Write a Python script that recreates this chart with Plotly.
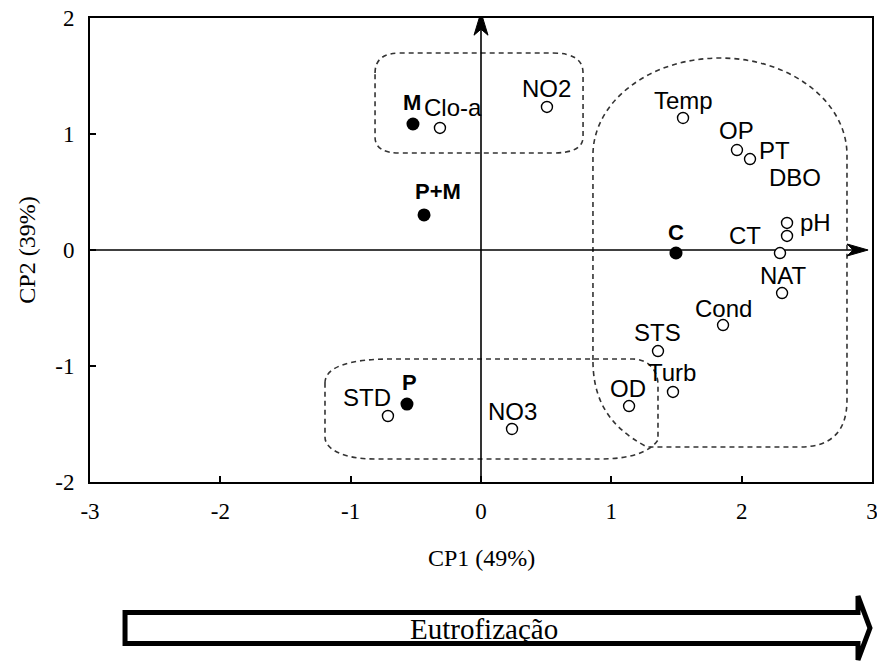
import plotly.graph_objects as go

# ---- data ----
var_names = ["Clo-a", "NO2", "Temp", "OP", "PT", "DBO", "pH", "CT", "NAT",
             "Cond", "STS", "Turb", "OD", "NO3", "STD"]
var_cp1 = [-0.315, 0.506, 1.550, 1.964, 2.064, 2.348, 2.348, 2.294, 2.310,
           1.857, 1.358, 1.473, 1.136, 0.238, -0.714]
var_cp2 = [1.052, 1.233, 1.138, 0.862, 0.784, 0.233, 0.121, -0.026, -0.371,
           -0.647, -0.871, -1.224, -1.345, -1.543, -1.431]

sample_names = ["M", "P+M", "P", "C"]
sample_cp1 = [-0.522, -0.437, -0.568, 1.496]
sample_cp2 = [1.086, 0.302, -1.328, -0.026]

x_ticks = [-3, -2, -1, 0, 1, 2, 3]
x_tick_text = ["-3", "-2", "-1", "0", "1", "2", "3"]
y_ticks = [-2, -1, 0, 1, 2]
y_tick_text = ["-2", "-1", "0", "1", "2"]

x_title = "CP1 (49%)"
y_title = "CP2 (39%)"
arrow_text = "Eutrofização"

# ---- label placement (pixel offsets, style only) ----
label_offsets = {
    "Clo-a": (13, 20), "NO2": (0, 18), "Temp": (0, 17), "OP": (0, 20),
    "PT": (24, 9), "DBO": (8, 45), "pH": (28, 13), "CT": (-35, 18),
    "NAT": (1, 18), "Cond": (0, 17), "STS": (0, 19), "Turb": (-1, 19),
    "OD": (-1, 18), "NO3": (0, 17), "STD": (-21, 19),
    "M": (-1, 22), "P+M": (14, 23), "P": (3, 22), "C": (0, 21),
}

SANS = "Liberation Sans"
SERIF = "Liberation Serif"

fig = go.Figure()

fig.add_trace(go.Scatter(
    x=var_cp1, y=var_cp2, mode="markers", cliponaxis=False,
    marker=dict(symbol="circle", size=11, color="white",
                line=dict(color="black", width=1.4)),
    showlegend=False, hoverinfo="skip"))

fig.add_trace(go.Scatter(
    x=sample_cp1, y=sample_cp2, mode="markers", cliponaxis=False,
    marker=dict(symbol="circle", size=13, color="black",
                line=dict(color="black", width=0)),
    showlegend=False, hoverinfo="skip"))

annotations = []
for n, x, y in zip(var_names, var_cp1, var_cp2):
    dx, dy = label_offsets[n]
    annotations.append(dict(x=x, y=y, xref="x", yref="y", text=n, showarrow=False,
                            xshift=dx, yshift=dy, xanchor="center", yanchor="middle",
                            font=dict(family=SANS, size=24, color="black")))
for n, x, y in zip(sample_names, sample_cp1, sample_cp2):
    dx, dy = label_offsets[n]
    annotations.append(dict(x=x, y=y, xref="x", yref="y", text="<b>%s</b>" % n,
                            showarrow=False, xshift=dx, yshift=dy,
                            xanchor="center", yanchor="middle",
                            font=dict(family=SANS, size=22, color="black")))

# axis titles
annotations.append(dict(x=0.5, y=-0.164, xref="paper", yref="paper", text=x_title,
                        showarrow=False, xanchor="center", yanchor="middle",
                        font=dict(family=SERIF, size=24, color="black")))
annotations.append(dict(x=-0.081, y=0.5, xref="paper", yref="paper", text=y_title,
                        showarrow=False, xanchor="center", yanchor="middle",
                        textangle=-90,
                        font=dict(family=SERIF, size=24, color="black")))
# Eutrofização text
annotations.append(dict(x=0.504, y=-0.317, xref="paper", yref="paper", text=arrow_text,
                        showarrow=False, xanchor="center", yanchor="middle",
                        font=dict(family=SERIF, size=29, color="black")))

dash = dict(color="#333333", width=1.6, dash="5px,4px")
shapes = [
    # group outlines (data coordinates)
    dict(type="path", xref="x", yref="y", line=dash, layer="below",
         path="M -0.813,1.526 Q -0.813,1.698 -0.622,1.698 L 0.552,1.698 "
              "Q 0.783,1.698 0.783,1.526 L 0.783,0.974 Q 0.783,0.836 0.552,0.836 "
              "L -0.622,0.836 Q -0.813,0.836 -0.813,0.974 Z"),
    dict(type="path", xref="x", yref="y", line=dash, layer="below",
         path="M 0.859,-0.948 L 0.859,0.819 C 0.859,1.281 1.296,1.655 1.834,1.655 "
              "C 2.372,1.655 2.808,1.281 2.808,0.819 L 2.808,-1.293 "
              "Q 2.808,-1.698 2.448,-1.698 L 1.274,-1.698 "
              "C 0.951,-1.509 0.859,-1.25 0.859,-0.948 Z"),
    dict(type="path", xref="x", yref="y", line=dash, layer="below",
         path="M -1.197,-1.147 C -1.197,-0.991 -0.967,-0.940 -0.698,-0.940 "
              "L 1.166,-0.940 C 1.281,-0.940 1.358,-1.034 1.358,-1.164 "
              "L 1.358,-1.638 C 1.297,-1.741 1.143,-1.802 0.913,-1.802 "
              "L -0.813,-1.802 C -1.044,-1.802 -1.197,-1.724 -1.197,-1.612 Z"),
    # axis lines through origin
    dict(type="line", xref="x", yref="y", x0=0, x1=0, y0=-2, y1=1.95,
         line=dict(color="black", width=1.6), layer="below"),
    dict(type="line", xref="x", yref="y", x0=-3, x1=2.9, y0=0, y1=0,
         line=dict(color="black", width=1.6), layer="below"),
    # arrow heads (pixel-sized, anchored at the tips)
    dict(type="path", xref="x", yref="y", xsizemode="pixel", ysizemode="pixel",
         xanchor=0, yanchor=2.05, path="M 0,0 L -7,-23 L 0,-17 L 7,-23 Z",
         fillcolor="black", line=dict(color="black", width=1)),
    dict(type="path", xref="x", yref="y", xsizemode="pixel", ysizemode="pixel",
         xanchor=2.97, yanchor=0, path="M 0,0 L -21,6 L -15,0 L -21,-6 Z",
         fillcolor="black", line=dict(color="black", width=1)),
    # Eutrofização block arrow (paper coordinates)
    dict(type="path", xref="paper", yref="paper",
         path="M 0.0448,-0.2812 L 0.9821,-0.2812 L 0.9821,-0.2457 L 0.9974,-0.3147 "
              "L 0.9821,-0.3836 L 0.9821,-0.3481 L 0.0448,-0.3481 Z",
         fillcolor="white", line=dict(color="black", width=5)),
]

axis_common = dict(showgrid=False, zeroline=False, showline=True, linewidth=2,
                   linecolor="black", mirror=True, ticks="inside", ticklen=6,
                   tickwidth=1.5, tickcolor="black", automargin=False,
                   ticklabeloverflow="allow",
                   tickfont=dict(family=SERIF, size=23, color="black"))

fig.update_layout(
    width=877, height=664,
    margin=dict(l=90, r=5, t=18, b=182, autoexpand=False),
    paper_bgcolor="white", plot_bgcolor="white",
    font=dict(family=SERIF, color="black"),
    xaxis=dict(range=[-3, 3], tickmode="array", tickvals=x_ticks,
               ticktext=x_tick_text, ticklabelstandoff=7, **axis_common),
    yaxis=dict(range=[-2, 2], tickmode="array", tickvals=y_ticks,
               ticktext=y_tick_text, ticklabelstandoff=9, **axis_common),
    annotations=annotations, shapes=shapes, showlegend=False,
)

# remove the browser's default 8px page margin so the figure fills the window
fig.write_html("out.html",
               config={"displayModeBar": False},
               post_script="document.body.style.margin='0';"
                           "document.body.style.overflow='hidden';")
